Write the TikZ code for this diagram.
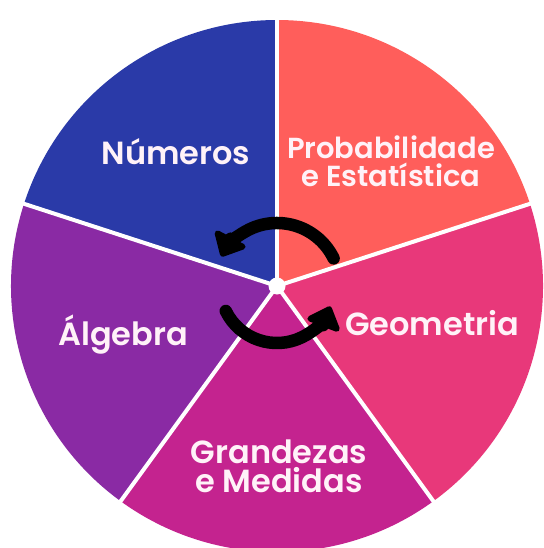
\documentclass[tikz,border=0pt]{standalone}
\usepackage{fontspec}
\setmainfont{Poppins}
\newfontfamily\labfont{Poppins SemiBold}
\usetikzlibrary{arrows.meta,calc}
\definecolor{cProb}{HTML}{FF5E5B}
\definecolor{cNum}{HTML}{2A3AA8}
\definecolor{cAlg}{HTML}{8A2AA4}
\definecolor{cGra}{HTML}{C4238F}
\definecolor{cGeo}{HTML}{E8387A}
\definecolor{cTxt}{HTML}{FFF2F8}
\tikzset{
  divider/.style={draw=white,line width=4pt},
  lab/.style={text=cTxt,font=\labfont\fontsize{32}{33}\selectfont,align=center,inner sep=0pt},
  labs/.style={lab,font=\labfont\fontsize{29}{31}\selectfont},
  cyc/.style={draw=black,line width=12.5pt,line cap=round,-{Triangle[length=23pt,width=40pt,round]}}
}
\begin{document}
\begin{tikzpicture}[x=1pt,y=1pt]
\useasboundingbox (0,0) rectangle (543,-548);
\clip (0,0) rectangle (543,-548);
\fill[white] (0,0) rectangle (543,-548);
\coordinate (C) at (277,-286);
\def\R{266}
\fill[cProb] (C) -- ++(18:\R) arc[start angle=18,end angle=90,radius=\R] -- cycle;
\fill[cNum] (C) -- ++(90:\R) arc[start angle=90,end angle=162,radius=\R] -- cycle;
\fill[cAlg] (C) -- ++(162:\R) arc[start angle=162,end angle=234,radius=\R] -- cycle;
\fill[cGra] (C) -- ++(234:\R) arc[start angle=234,end angle=306,radius=\R] -- cycle;
\fill[cGeo] (C) -- ++(306:\R) arc[start angle=306,end angle=378,radius=\R] -- cycle;
\foreach \a/\n in {18/d1,90/d2,162/d3,234/d4,306/d5}{
  \coordinate (\n) at ($(C)+(\a:\R+5)$);
}
\foreach \n in {d1,d2,d3,d4,d5}{ \draw[divider] (C) -- (\n); }
\node[circle,fill=white,minimum size=17pt,inner sep=0pt] (hub) at (C) {};
% cycle arrows
\coordinate (uS) at ($(C)+(26:63)$);
\coordinate (lS) at ($(C)+(206:57)$);
\draw[cyc] (uS) arc[start angle=26,end angle=152,radius=63];
\draw[cyc] (lS) arc[start angle=206,end angle=339,radius=57];
% labels
\node[lab] (num) at (176,-152) {Números};
\node[labs] (prob) at (391,-161) {Probabilidade\\[-3pt]e Estatística};
\node[lab] (geo) at (432,-323) {Geometria};
\node[lab] (alg) at (123,-335) {Álgebra};
\node[lab] (gra) at (279,-466) {Grandezas\\[-4pt]e Medidas};
\end{tikzpicture}
\end{document}
